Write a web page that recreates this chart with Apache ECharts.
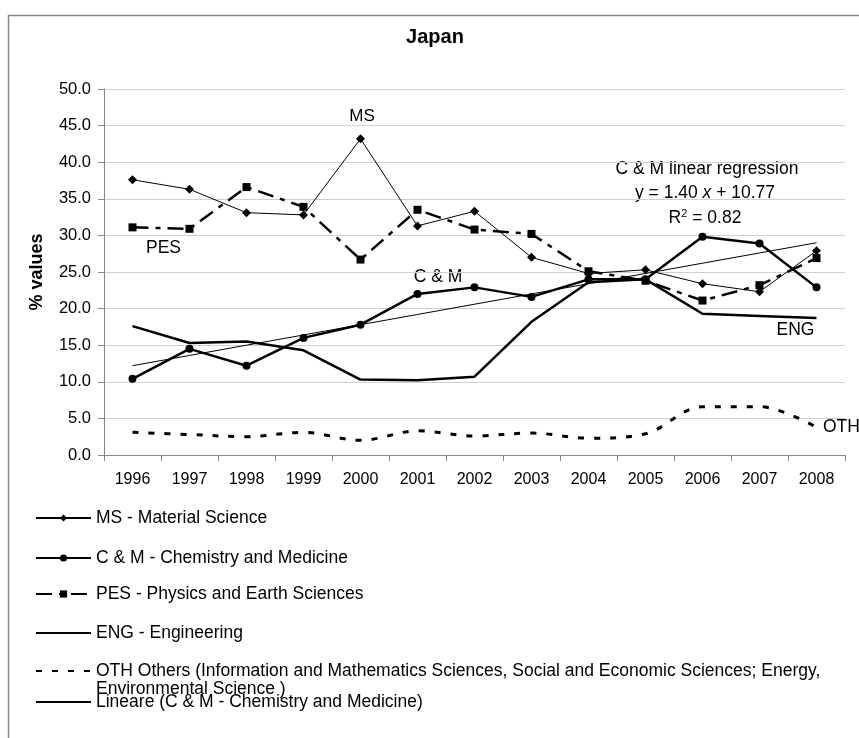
<!DOCTYPE html>
<html><head><meta charset="utf-8">
<script src="https://cdn.jsdelivr.net/npm/echarts@6/dist/echarts.min.js"></script>
<style>html,body{margin:0;padding:0;background:#fff}#c{width:859px;height:738px}</style>
</head><body><div id="c"></div>
<script>
// ---- data ----
const years = ['1996','1997','1998','1999','2000','2001','2002','2003','2004','2005','2006','2007','2008'];
const msValues  = [37.6, 36.3, 33.1, 32.8, 43.2, 31.3, 33.3, 27.0, 24.8, 25.3, 23.4, 22.3, 27.9];
const cmValues  = [10.4, 14.5, 12.2, 16.0, 17.8, 22.0, 22.9, 21.6, 24.0, 24.0, 29.8, 28.9, 22.9];
const pesValues = [31.1, 30.9, 36.6, 33.9, 26.7, 33.5, 30.8, 30.2, 25.1, 23.8, 21.1, 23.2, 26.9];
const engValues = [17.6, 15.3, 15.5, 14.3, 10.3, 10.2, 10.7, 18.2, 23.6, 24.0, 19.3, 19.0, 18.7];
const othValues = [3.1, 2.8, 2.5, 3.1, 2.0, 3.3, 2.6, 3.0, 2.3, 2.9, 6.6, 6.6, 3.8];
const trendValues = [12.2, 13.6, 15.0, 16.4, 17.8, 19.2, 20.6, 22.0, 23.4, 24.8, 26.2, 27.6, 29.0];
const seriesNames = [
  'MS - Material Science',
  'C & M - Chemistry and Medicine',
  'PES - Physics and Earth Sciences',
  'ENG - Engineering',
  'OTH Others (Information and Mathematics Sciences, Social and Economic Sciences; Energy, Environmental Science )',
  'Lineare (C & M - Chemistry and Medicine)'
];
const yMin = 0, yMax = 50, yInterval = 5;
const annotations = ['MS', 'PES', 'C & M', 'ENG', 'OTH'];
const regressionText = ['C & M linear regression', 'y = 1.40 {i|x} + 10.77', 'R{s|2} = 0.82'];

// ---- chart ----
const FONT = '"Liberation Sans", Arial, sans-serif';
const chart = echarts.init(document.getElementById('c'), null, {renderer: 'canvas'});

function legendAt(name, top, extra, hideSymbol) {
  const item = hideSymbol ? {name: name, itemStyle: {opacity: 0}} : {name: name};
  return Object.assign({
    data: [item], orient: 'vertical', left: 35, top: top,
    itemWidth: 55, itemHeight: 9, itemGap: 0, selectedMode: false,
    padding: 0,
    textStyle: {fontFamily: FONT, fontSize: 17.5, color: '#000'}
  }, extra || {});
}

const option = {
  animation: false,
  backgroundColor: '#fff',
  title: {
    text: 'Japan', left: 435, top: 27, textAlign: 'center', padding: 0,
    textStyle: {fontFamily: FONT, fontSize: 20, fontWeight: 'bold', color: '#000'}
  },
  grid: {left: 104, right: 14, top: 89, bottom: 283, containLabel: false},
  xAxis: {
    type: 'category', data: years, boundaryGap: true,
    axisLine: {lineStyle: {color: '#868686', width: 1}},
    axisTick: {show: true, length: 6, lineStyle: {color: '#868686'}},
    axisLabel: {fontFamily: FONT, fontSize: 16, color: '#000', margin: 17},
    splitLine: {show: false}
  },
  yAxis: {
    type: 'value', min: yMin, max: yMax, interval: yInterval,
    name: '% values', nameLocation: 'middle', nameGap: 58, nameRotate: 90,
    nameTextStyle: {fontFamily: FONT, fontSize: 18, fontWeight: 'bold', color: '#000'},
    axisLine: {show: true, lineStyle: {color: '#868686', width: 1}},
    axisTick: {show: true, length: 6, lineStyle: {color: '#868686'}},
    axisLabel: {fontFamily: FONT, fontSize: 16.5, color: '#000', margin: 13,
      formatter: v => v.toFixed(1)},
    splitLine: {show: true, lineStyle: {color: '#d0d0d0', width: 1}}
  },
  legend: [
    legendAt(seriesNames[0], 509),
    legendAt(seriesNames[1], 549),
    legendAt(seriesNames[2], 585),
    legendAt(seriesNames[3], 624, null, true),
    legendAt(seriesNames[4], 644, {
      formatter: n => '\n' + n.replace('Energy, ', 'Energy,\n'),
      textStyle: {fontFamily: FONT, fontSize: 17.5, color: '#000', lineHeight: 18}
    }, true),
    legendAt(seriesNames[5], 693, null, true)
  ],
  series: [
    {name: seriesNames[3], type: 'line', data: engValues, symbol: 'none',
      lineStyle: {color: '#000', width: 2.5}, itemStyle: {color: '#000'}, z: 2},
    {name: seriesNames[4], type: 'line', data: othValues, symbol: 'none', smooth: 0.35,
      lineStyle: {color: '#000', width: 3, type: [6, 10]}, itemStyle: {color: '#000'}, z: 2},
    {name: seriesNames[5], type: 'line', data: trendValues, symbol: 'none',
      lineStyle: {color: '#000', width: 1}, itemStyle: {color: '#000'}, z: 2},
    {name: seriesNames[2], type: 'line', data: pesValues, symbol: 'rect', symbolSize: 8,
      lineStyle: {color: '#000', width: 2.5, type: [16, 7, 5, 7]}, itemStyle: {color: '#000'}, z: 3},
    {name: seriesNames[1], type: 'line', data: cmValues, symbol: 'circle', symbolSize: 8,
      lineStyle: {color: '#000', width: 2.5}, itemStyle: {color: '#000'}, z: 4},
    {name: seriesNames[0], type: 'line', data: msValues, symbol: 'diamond', symbolSize: 9,
      lineStyle: {color: '#000', width: 1}, itemStyle: {color: '#000'}, z: 5}
  ],
  graphic: [
    {type: 'rect', shape: {x: 8.5, y: 15.5, width: 900, height: 800},
      style: {fill: 'none', stroke: '#868686', lineWidth: 1.5}, silent: true, z: -1},
    {type: 'text', x: 362, y: 116, style: {text: annotations[0], font: '17px ' + FONT, fill: '#000', align: 'center', verticalAlign: 'middle'}},
    {type: 'text', x: 163.5, y: 248, style: {text: annotations[1], font: '17.5px ' + FONT, fill: '#000', align: 'center', verticalAlign: 'middle'}},
    {type: 'text', x: 438, y: 277, style: {text: annotations[2], font: '17.5px ' + FONT, fill: '#000', align: 'center', verticalAlign: 'middle'}},
    {type: 'text', x: 795.5, y: 330, style: {text: annotations[3], font: '17.5px ' + FONT, fill: '#000', align: 'center', verticalAlign: 'middle'}},
    {type: 'text', x: 823, y: 427, style: {text: annotations[4], font: '17.5px ' + FONT, fill: '#000', align: 'left', verticalAlign: 'middle'}},
    {type: 'text', x: 707, y: 169, style: {text: regressionText[0], font: '17.5px ' + FONT, fill: '#000', align: 'center', verticalAlign: 'middle'}},
    {type: 'text', x: 705, y: 193, style: {text: regressionText[1], font: '17.5px ' + FONT, fill: '#000', align: 'center', verticalAlign: 'middle',
      rich: {i: {fontStyle: 'italic', fontSize: 17.5, fontFamily: FONT, fill: '#000'}}}},
    {type: 'text', x: 705, y: 218, style: {text: regressionText[2], font: '17.5px ' + FONT, fill: '#000', align: 'center', verticalAlign: 'middle',
      rich: {s: {fontSize: 11, fontFamily: FONT, fill: '#000', verticalAlign: 'top', padding: [0,0,8,0]}}}}
  ]
};
chart.setOption(option);
</script>
</body></html>
